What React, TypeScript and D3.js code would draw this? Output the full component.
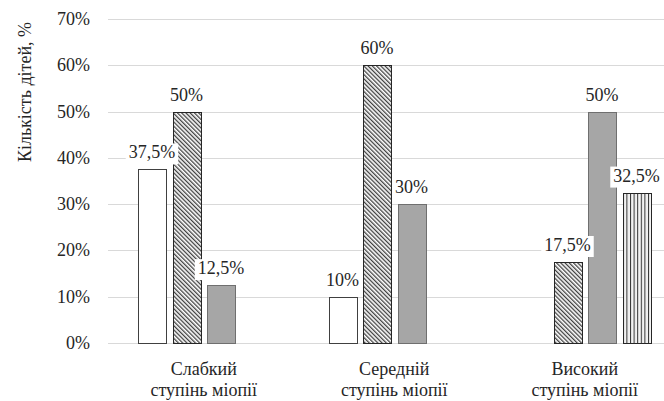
import React from "react";
import * as d3 from "d3";

// Myopia degree groups and share of children per group (four series)
const categories = ["Слабкий|ступінь міопії", "Середній|ступінь міопії", "Високий|ступінь міопії"];
const seriesWhite = [37.5, 10, 0];
const seriesHatched = [50, 60, 17.5];
const seriesGray = [12.5, 30, 50];
const seriesStriped = [0, 0, 32.5];
const yTicks = [0, 10, 20, 30, 40, 50, 60, 70];
const yTitle = "Кількість дітей, %";

const W = 664;
const H = 401;
const FONT = "Liberation Serif, Tinos, Times New Roman, serif";
const FS = 18;
const TEXT = "#262626";

const series = [
  { values: seriesWhite, fill: "#ffffff", stroke: "#404040" },
  { values: seriesHatched, fill: "url(#hatch)", stroke: "#262626" },
  { values: seriesGray, fill: "#a6a6a6", stroke: "#6f6f6f" },
  { values: seriesStriped, fill: "url(#stripe)", stroke: "#262626" },
];

const y = d3.scaleLinear().domain([0, 70]).range([343, 19]);
const x0 = d3.scaleBand<string>().domain(categories).range([108.5, 680]).padding(0);
const groupW = 131.5;
const x1 = d3
  .scaleBand<number>()
  .domain(d3.range(series.length))
  .range([0, groupW])
  .paddingInner(0.19)
  .paddingOuter(0);
const groupX = (c: string) => (x0(c) as number) + (x0.bandwidth() - groupW) / 2;

// approximate Times-style advance widths (em) for label boxes
const charW = (ch: string) => (ch === "%" ? 0.833 : ch === "," ? 0.25 : 0.5);
const textW = (s: string) => s.split("").reduce((a, ch) => a + charW(ch), 0) * FS;

const fmt = (v: number) => `${String(v).replace(".", ",")}%`;

type LabelProps = {
  x: number;
  y: number;
  anchor?: "start" | "middle" | "end";
  rotate?: number;
  children: React.ReactNode;
};

function Label({ x, y: ly, anchor = "middle", rotate = 0, children }: LabelProps) {
  return (
    <text
      transform={`translate(${x},${ly}) rotate(${rotate})`}
      textAnchor={anchor}
      fontFamily={FONT}
      fontSize={FS}
      fill={TEXT}
    >
      {children}
    </text>
  );
}

export default function App() {
  const marks: React.ReactNode[] = [];
  const labels: React.ReactNode[] = [];
  series.forEach((s, si) => {
    categories.forEach((c, ci) => {
      const v = s.values[ci];
      if (!v) return;
      const bx = groupX(c) + (x1(si) as number);
      const top = Math.round(y(v));
      marks.push(
        <rect
          key={`b${si}-${ci}`}
          x={Math.round(bx) + 0.5}
          y={top + 0.5}
          width={Math.round(x1.bandwidth())}
          height={Math.round(y(0)) - top}
          fill={s.fill}
          stroke={s.stroke}
          strokeWidth={1}
        />
      );
      const cx = bx + x1.bandwidth() / 2;
      const label = fmt(v);
      const tw = textW(label);
      const base = y(v) - 11;
      labels.push(
        <g key={`l${si}-${ci}`}>
          <rect x={cx - tw / 2 - 3} y={base - 15} width={tw + 6} height={21} fill="#ffffff" />
          <Label x={cx} y={base}>
            {label}
          </Label>
        </g>
      );
    });
  });

  return (
    <svg
      width={W}
      height={H}
      style={{ position: "absolute", left: 0, top: 0, background: "#ffffff" }}
    >
      <defs>
        <pattern id="hatch" patternUnits="userSpaceOnUse" width={3} height={3} patternTransform="rotate(-45)">
          <rect width={3} height={3} fill="#ffffff" />
          <rect width={1.3} height={3} fill="#404040" />
        </pattern>
        <pattern id="stripe" patternUnits="userSpaceOnUse" width={3.6} height={4}>
          <rect width={3.6} height={4} fill="#f2f2f2" />
          <rect width={1} height={4} fill="#303030" />
        </pattern>
      </defs>

      {yTicks.map((t) => (
        <line
          key={`g${t}`}
          x1={108}
          x2={W}
          y1={Math.round(y(t)) + 0.5}
          y2={Math.round(y(t)) + 0.5}
          stroke="#d9d9d9"
          strokeWidth={1}
        />
      ))}

      {yTicks.map((t) => (
        <Label key={`t${t}`} x={90} y={y(t) + 6} anchor="end">
          {`${t}%`}
        </Label>
      ))}

      <Label x={31} y={92} rotate={-90}>
        {yTitle}
      </Label>

      {marks}
      {labels}

      {categories.map((c) =>
        c.split("|").map((line, li) => (
          <Label key={`c${c}-${li}`} x={groupX(c) + groupW / 2} y={375 + li * 21}>
            {line}
          </Label>
        ))
      )}
    </svg>
  );
}
